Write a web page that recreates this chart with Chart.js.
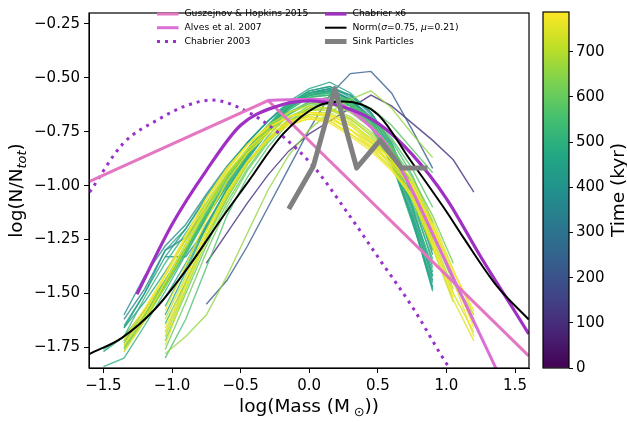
<!DOCTYPE html>
<html>
<head>
<meta charset="utf-8">
<script src="https://cdn.jsdelivr.net/npm/chart.js@4.4.0/dist/chart.umd.min.js"></script>
<style>
  html, body { margin: 0; padding: 0; background: #fff; }
  #wrap { position: relative; width: 627px; height: 423px; }
  #wrap canvas { position: absolute; left: 0; top: 0; }
</style>
</head>
<body>
<div id="wrap">
  <canvas id="mainChart" width="627" height="423"></canvas>
  <canvas id="cbarChart" width="627" height="423"></canvas>
</div>
<script>
// ticks
const xTicks = [-1.5, -1.0, -0.5, 0.0, 0.5, 1.0, 1.5];
const yTicks = [-1.75, -1.5, -1.25, -1.0, -0.75, -0.5, -0.25];
const cbarTicks = [0, 100, 200, 300, 400, 500, 600, 700];
const timeMax = 788;

// model curves (log mass, log N/Ntot)
const ghMass = [-1.6, -0.3, 1.6];
const ghLog = [-0.98, -0.605, -1.79];

const alvesMass = [-0.3, -0.1, 0.1, 0.25, 0.4, 0.55, 0.7, 1.0, 1.4];
const alvesLog = [-0.605, -0.6, -0.6, -0.63, -0.7, -0.8, -0.96, -1.36, -1.9];

const chab03Mass = [-1.6, -1.357, -1.1, -0.9, -0.71, -0.457, -0.214, 0.03, 0.273, 0.516, 0.759, 1.0, 1.05];
const chab03Log = [-1.03, -0.805, -0.693, -0.63, -0.603, -0.655, -0.76, -0.91, -1.12, -1.345, -1.57, -1.825, -1.87];

const chab6Mass = [-1.256, -1.0, -0.75, -0.5, -0.25, 0.0, 0.25, 0.5, 0.75, 1.0, 1.25, 1.5, 1.6];
const chab6Log = [-1.504, -1.18, -0.93, -0.72, -0.635, -0.607, -0.635, -0.71, -0.855, -1.06, -1.33, -1.585, -1.688];

const normMass = [-1.6, -1.365, -1.12, -0.877, -0.635, -0.464, -0.19, 0.054, 0.25, 0.5, 0.735, 1.0, 1.123, 1.367, 1.6];
const normLog = [-1.78, -1.706, -1.57, -1.374, -1.149, -0.999, -0.76, -0.633, -0.61, -0.67, -0.88, -1.12, -1.24, -1.465, -1.621];

const sinkMass = [-0.14, 0.03, 0.187, 0.346, 0.516, 0.674, 0.844];
const sinkLog = [-1.098, -0.91, -0.55, -0.918, -0.79, -0.918, -0.918];

// simulation snapshots: shared mass bins, one row of values per snapshot time (kyr)
const massBins = [-1.5, -1.35, -1.2, -1.05, -0.9, -0.75, -0.6, -0.45, -0.3, -0.15, 0, 0.15, 0.3, 0.45, 0.6, 0.75, 0.9, 1.05, 1.2];
const snapTimes = [100, 230, 350, 380, 400, 420, 430, 440, 450, 460, 470, 480, 490, 500, 510, 520, 530, 540,
                   560, 570, 580, 600, 610, 640, 660, 680, 690, 700, 710, 720, 730, 740, 750, 755, 765, 775, 780, 785];
const snapValues = [
  [null, null, null, null, null, -1.36, -1.22, -1.08, -0.95, -0.84, -0.76, -0.70, -0.64, -0.58, -0.63, -0.71, -0.79, -0.88, -1.03],
  [null, null, null, null, null, -1.55, -1.44, -1.28, -1.10, -0.92, -0.74, -0.58, -0.48, -0.47, -0.57, -0.74, -0.92, null, null],
  [null, -1.62, -1.48, -1.30, -1.24, -1.10, -0.96, -0.84, -0.73, -0.64, -0.58, -0.56, -0.60, -0.68, -0.82, -1.04, -1.32, null, null],
  [null, -1.60, -1.42, -1.28, -1.18, -1.04, -0.91, -0.80, -0.70, -0.62, -0.57, -0.55, -0.58, -0.66, -0.80, -1.02, -1.30, null, null],
  [null, null, null, -1.33, -1.33, -1.20, -1.04, -0.88, -0.75, -0.64, -0.57, -0.55, -0.60, -0.69, -0.86, -1.12, -1.44, null, null],
  [null, -1.66, -1.50, -1.33, -1.20, -1.05, -0.92, -0.80, -0.70, -0.62, -0.56, -0.54, -0.58, -0.67, -0.84, -1.10, -1.42, null, null],
  [null, null, null, -1.52, -1.36, -1.18, -1.02, -0.87, -0.74, -0.64, -0.58, -0.56, -0.60, -0.70, -0.88, -1.16, -1.48, null, null],
  [-1.77, -1.70, -1.58, -1.44, -1.29, -1.13, -0.98, -0.85, -0.73, -0.63, -0.57, -0.55, -0.61, -0.70, -0.87, -1.14, -1.47, null, null],
  [null, -1.65, -1.50, -1.30, -1.20, -1.06, -0.92, -0.80, -0.70, -0.61, -0.55, -0.52, -0.57, -0.66, -0.81, -1.05, -1.36, null, null],
  [null, -1.66, -1.54, -1.40, -1.25, -1.10, -0.96, -0.83, -0.72, -0.62, -0.56, -0.54, -0.59, -0.69, -0.85, -1.09, -1.40, null, null],
  [null, null, null, -1.60, -1.40, -1.19, -1.01, -0.86, -0.73, -0.63, -0.57, -0.56, -0.62, -0.71, -0.88, -1.15, -1.49, null, null],
  [null, -1.72, -1.60, -1.46, -1.30, -1.14, -0.99, -0.85, -0.73, -0.64, -0.58, -0.57, -0.62, -0.72, -0.89, -1.17, -1.45, null, null],
  [null, null, null, -1.56, -1.38, -1.19, -1.02, -0.87, -0.75, -0.65, -0.59, -0.58, -0.63, -0.73, -0.90, -1.14, -1.42, null, null],
  [-1.84, -1.80, -1.65, -1.49, -1.32, -1.15, -1.00, -0.86, -0.74, -0.64, -0.58, -0.58, -0.63, -0.72, -0.87, -1.10, -1.38, null, null],
  [null, -1.70, -1.52, -1.36, -1.22, -1.08, -0.95, -0.83, -0.72, -0.63, -0.58, -0.57, -0.61, -0.70, -0.85, -1.06, -1.30, null, null],
  [null, -1.75, -1.62, -1.47, -1.31, -1.14, -0.98, -0.84, -0.72, -0.62, -0.57, -0.57, -0.62, -0.70, -0.85, -1.08, -1.34, null, null],
  [null, null, null, -1.64, -1.45, -1.24, -1.06, -0.90, -0.77, -0.67, -0.61, -0.59, -0.62, -0.70, -0.83, -1.02, -1.27, null, null],
  [-1.76, -1.70, -1.60, -1.46, -1.31, -1.15, -1.00, -0.86, -0.74, -0.65, -0.59, -0.58, -0.62, -0.69, -0.81, -1.00, -1.25, null, null],
  [null, null, null, -1.80, -1.62, -1.38, -1.14, -0.96, -0.82, -0.71, -0.64, -0.61, -0.63, -0.69, -0.79, -0.95, -1.17, null, null],
  [null, -1.73, -1.60, -1.45, -1.29, -1.12, -0.97, -0.85, -0.75, -0.67, -0.62, -0.60, -0.62, -0.68, -0.78, -0.92, -1.10, null, null],
  [null, -1.76, -1.62, -1.47, -1.30, -1.13, -0.98, -0.85, -0.74, -0.66, -0.61, -0.59, -0.60, -0.64, -0.72, -0.83, -0.94, null, null],
  [null, null, null, -1.72, -1.50, -1.28, -1.08, -0.92, -0.79, -0.69, -0.63, -0.61, -0.64, -0.71, -0.83, -1.00, -1.18, null, null],
  [null, null, null, -1.76, -1.54, -1.31, -1.10, -0.93, -0.80, -0.70, -0.64, -0.62, -0.65, -0.72, -0.82, -0.96, -1.14, -1.36, null],
  [null, -1.74, -1.60, -1.44, -1.27, -1.10, -0.95, -0.83, -0.73, -0.66, -0.62, -0.62, -0.66, -0.73, -0.84, -1.00, -1.22, -1.45, -1.62],
  [null, null, null, -1.78, -1.70, -1.60, -1.42, -1.22, -1.02, -0.86, -0.74, -0.66, -0.60, -0.56, -0.64, -0.76, -0.87, null, null],
  [null, null, null, -1.70, -1.48, -1.26, -1.06, -0.90, -0.78, -0.70, -0.65, -0.64, -0.68, -0.75, -0.85, -0.98, -1.18, -1.42, -1.64],
  [null, -1.75, -1.61, -1.45, -1.27, -1.10, -0.95, -0.83, -0.74, -0.68, -0.65, -0.65, -0.69, -0.76, -0.86, -1.00, -1.20, -1.44, -1.60],
  [null, -1.77, -1.63, -1.47, -1.29, -1.11, -0.96, -0.84, -0.75, -0.68, -0.64, -0.64, -0.69, -0.77, -0.88, -1.02, -1.24, -1.48, null],
  [null, null, null, -1.68, -1.45, -1.23, -1.05, -0.90, -0.79, -0.71, -0.67, -0.67, -0.72, -0.80, -0.91, -1.06, -1.29, -1.54, null],
  [null, null, null, -1.62, -1.42, -1.21, -1.03, -0.89, -0.78, -0.70, -0.66, -0.66, -0.71, -0.78, -0.88, -1.00, -1.20, null, null],
  [null, -1.72, -1.58, -1.42, -1.25, -1.08, -0.93, -0.81, -0.72, -0.66, -0.63, -0.64, -0.70, -0.79, -0.90, -1.04, -1.26, -1.50, -1.68],
  [null, null, null, -1.74, -1.48, -1.24, -1.04, -0.89, -0.78, -0.71, -0.67, -0.68, -0.74, -0.80, -0.87, -0.97, -1.16, -1.39, -1.60],
  [null, null, null, -1.70, -1.46, -1.23, -1.04, -0.89, -0.78, -0.71, -0.68, -0.69, -0.74, -0.82, -0.92, -1.06, -1.28, -1.53, -1.72],
  [null, -1.77, -1.62, -1.45, -1.27, -1.09, -0.94, -0.83, -0.75, -0.70, -0.68, -0.70, -0.76, -0.83, -0.92, -1.04, -1.25, -1.50, null],
  [null, null, null, -1.66, -1.43, -1.21, -1.03, -0.89, -0.79, -0.72, -0.69, -0.70, -0.76, -0.82, -0.89, -0.99, -1.19, -1.44, -1.70],
  [null, null, null, -1.58, -1.37, -1.16, -0.98, -0.85, -0.76, -0.71, -0.69, -0.71, -0.77, -0.84, -0.93, -1.05, -1.27, -1.52, null],
  [null, -1.71, -1.57, -1.41, -1.23, -1.06, -0.92, -0.81, -0.73, -0.68, -0.66, -0.67, -0.72, -0.79, -0.88, -1.00, -1.18, -1.40, -1.58],
  [null, -1.74, -1.59, -1.42, -1.24, -1.06, -0.92, -0.81, -0.73, -0.68, -0.66, -0.68, -0.74, -0.81, -0.90, -1.01, -1.20, -1.42, -1.66]
];

const FONT = "'DejaVu Sans', sans-serif";
Chart.defaults.font.family = FONT;
Chart.defaults.color = '#000';

// viridis colour map
const viridisStops = ['#440154', '#482475', '#414487', '#355f8d', '#2a788e', '#21918c',
                      '#22a884', '#44bf70', '#7ad151', '#bddf26', '#fde725'];
function hexRgb(h) {
  return [1, 3, 5].map(i => parseInt(h.substr(i, 2), 16));
}
function viridis(f, alpha) {
  f = Math.min(1, Math.max(0, f));
  const p = f * (viridisStops.length - 1);
  const i = Math.min(Math.floor(p), viridisStops.length - 2);
  const t = p - i;
  const a = hexRgb(viridisStops[i]), b = hexRgb(viridisStops[i + 1]);
  const c = a.map((v, k) => Math.round(v + (b[k] - v) * t));
  return 'rgba(' + c[0] + ',' + c[1] + ',' + c[2] + ',' + alpha + ')';
}

function fmtTick(v, d) {
  return Number(v).toFixed(d).replace('-', '\u2212');
}
const toPoints = (xs, ys) => xs.map((x, i) => ({ x: x, y: ys[i] }));

// text with italic / subscript pieces
function measureRich(ctx, parts, size) {
  let w = 0;
  for (const [txt, st] of parts) {
    const fs = st.includes('sub') ? size * 0.7 : size;
    ctx.font = (st.includes('talic') ? 'italic ' : '') + fs + 'px ' + FONT;
    w += ctx.measureText(txt).width;
  }
  return w;
}
function drawRich(ctx, parts, x, y, size) {
  let cx = x;
  for (const [txt, st] of parts) {
    const sub = st.includes('sub');
    const fs = sub ? size * 0.7 : size;
    ctx.font = (st.includes('talic') ? 'italic ' : '') + fs + 'px ' + FONT;
    ctx.fillText(txt, cx, y + (sub ? size * 0.22 : 0));
    cx += ctx.measureText(txt).width;
  }
}

// datasets
const modelDatasets = [
  { label: 'Sink Particles', data: toPoints(sinkMass, sinkLog), borderColor: '#808080',
    borderWidth: 5, borderJoinStyle: 'round', borderCapStyle: 'square', order: 0 },
  { label: 'Norm', data: toPoints(normMass, normLog), borderColor: '#000000',
    borderWidth: 2, cubicInterpolationMode: 'monotone', order: 1 },
  { label: 'Chabrier x6', data: toPoints(chab6Mass, chab6Log), borderColor: '#a030c4',
    borderWidth: 3.2, cubicInterpolationMode: 'monotone', order: 2 },
  { label: 'Alves et al. 2007', data: toPoints(alvesMass, alvesLog), borderColor: '#da70d6',
    borderWidth: 3, cubicInterpolationMode: 'monotone', order: 3 },
  { label: 'Guszejnov & Hopkins 2015', data: toPoints(ghMass, ghLog), borderColor: '#e377c2',
    borderWidth: 3, order: 4 },
  { label: 'Chabrier 2003', data: toPoints(chab03Mass, chab03Log), borderColor: '#9932cc',
    borderWidth: 3, borderDash: [3, 5], cubicInterpolationMode: 'monotone', order: 5 }
];

const snapDatasets = snapTimes.map((t, i) => ({
  label: 'snap ' + t,
  data: massBins.map((m, j) => ({ x: m, y: snapValues[i][j] })).filter(p => p.y !== null),
  borderColor: viridis(t / timeMax, 0.8),
  borderWidth: 1.4,
  order: 100 - i
}));

// legend layout (two columns, three rows, no frame)
const legendCols = [157, 325];
const legendRows = [14, 27.7, 41.5];
const legendLayout = [
  { label: 'Guszejnov & Hopkins 2015', col: 0, row: 0, text: [['Guszejnov & Hopkins 2015', '']] },
  { label: 'Alves et al. 2007', col: 0, row: 1, text: [['Alves et al. 2007', '']] },
  { label: 'Chabrier 2003', col: 0, row: 2, text: [['Chabrier 2003', '']] },
  { label: 'Chabrier x6', col: 1, row: 0, text: [['Chabrier x6', '']] },
  { label: 'Norm', col: 1, row: 1,
    text: [['Norm(', ''], ['\u03c3', 'italic'], ['=0.75, ', ''], ['\u03bc', 'italic'], ['=0.21)', '']] },
  { label: 'Sink Particles', col: 1, row: 2, text: [['Sink Particles', '']] }
];

const legendPlugin = {
  id: 'modelLegend',
  afterDraw(chart) {
    const ctx = chart.ctx;
    ctx.save();
    legendLayout.forEach(item => {
      const ds = chart.data.datasets.find(d => d.label === item.label);
      const x0 = legendCols[item.col], y = legendRows[item.row];
      ctx.beginPath();
      ctx.strokeStyle = ds.borderColor;
      ctx.lineWidth = ds.borderWidth;
      ctx.lineCap = 'butt';
      ctx.setLineDash(ds.borderDash || []);
      ctx.moveTo(x0, y);
      ctx.lineTo(x0 + 21.5, y);
      ctx.stroke();
      ctx.setLineDash([]);
      ctx.fillStyle = '#000';
      ctx.textBaseline = 'middle';
      drawRich(ctx, item.text, x0 + 27.5, y, 9.2);
    });
    ctx.restore();
  }
};

const framePlugin = {
  id: 'frame',
  afterDraw(chart) {
    const a = chart.chartArea, ctx = chart.ctx;
    ctx.save();
    ctx.strokeStyle = '#000';
    ctx.lineWidth = 1.2;
    ctx.strokeRect(a.left, a.top, a.right - a.left, a.bottom - a.top);
    ctx.restore();
  }
};

const axisTitlePlugin = {
  id: 'axisTitles',
  afterDraw(chart) {
    const ctx = chart.ctx, a = chart.chartArea;
    const size = 18.5;
    ctx.save();
    ctx.fillStyle = '#000';
    ctx.textBaseline = 'alphabetic';
    const xParts = [['log(Mass (M', ''], ['\u2009', ''], ['\u2299', 'sub'], ['))', '']];
    const wx = measureRich(ctx, xParts, size);
    drawRich(ctx, xParts, (a.left + a.right) / 2 - wx / 2, 411.5, size);
    const yParts = [['log(N/N', ''], ['tot', 'subItalic'], [')', '']];
    ctx.translate(21.5, (a.top + a.bottom) / 2);
    ctx.rotate(-Math.PI / 2);
    const wy = measureRich(ctx, yParts, size);
    drawRich(ctx, yParts, -wy / 2, 0, size);
    ctx.restore();
  }
};

new Chart(document.getElementById('mainChart'), {
  type: 'line',
  data: { datasets: modelDatasets.concat(snapDatasets) },
  options: {
    responsive: false,
    animation: false,
    events: [],
    layout: { padding: { left: 0, right: 98, top: 2, bottom: 0 } },
    plugins: { legend: { display: false }, tooltip: { enabled: false } },
    elements: { point: { radius: 0 }, line: { tension: 0, fill: false } },
    datasets: { line: { clip: 0 } },
    scales: {
      x: {
        type: 'linear', min: -1.605, max: 1.602,
        afterBuildTicks: s => { s.ticks = xTicks.map(v => ({ value: v })); },
        afterFit: s => { s.height = 55; },
        ticks: { callback: v => fmtTick(v, 1), font: { size: 15 }, color: '#000',
                 padding: 4, maxRotation: 0, autoSkip: false },
        grid: { drawOnChartArea: false, tickLength: 5, color: '#000', lineWidth: 1 },
        border: { color: '#000', width: 1 }
      },
      y: {
        type: 'linear', min: -1.846, max: -0.199,
        afterBuildTicks: s => { s.ticks = yTicks.map(v => ({ value: v })); },
        afterFit: s => { s.width = 89; },
        ticks: { callback: v => fmtTick(v, 2), font: { size: 15 }, color: '#000',
                 padding: 4, autoSkip: false },
        grid: { drawOnChartArea: false, tickLength: 5, color: '#000', lineWidth: 1 },
        border: { color: '#000', width: 1 }
      }
    }
  },
  plugins: [framePlugin, legendPlugin, axisTitlePlugin]
});

// colour bar
const cbarPlugin = {
  id: 'cbarDecor',
  afterDraw(chart) {
    const a = chart.chartArea, ctx = chart.ctx;
    ctx.save();
    ctx.strokeStyle = '#000';
    ctx.lineWidth = 1.2;
    ctx.strokeRect(a.left, a.top, a.right - a.left, a.bottom - a.top);
    ctx.fillStyle = '#000';
    ctx.font = '18.5px ' + FONT;
    ctx.textAlign = 'center';
    ctx.textBaseline = 'alphabetic';
    ctx.translate(623.5, (a.top + a.bottom) / 2);
    ctx.rotate(-Math.PI / 2);
    ctx.fillText('Time (kyr)', 0, 0);
    ctx.restore();
  }
};

new Chart(document.getElementById('cbarChart'), {
  type: 'bar',
  data: {
    labels: [''],
    datasets: [{
      data: [timeMax],
      borderWidth: 0,
      barPercentage: 1,
      categoryPercentage: 1,
      backgroundColor: c => {
        const a = c.chart.chartArea;
        if (!a) return 'transparent';
        const g = c.chart.ctx.createLinearGradient(0, a.bottom, 0, a.top);
        viridisStops.forEach((col, k) => g.addColorStop(k / (viridisStops.length - 1), col));
        return g;
      }
    }]
  },
  options: {
    responsive: false,
    animation: false,
    events: [],
    layout: { padding: { left: 543, right: 0, top: 2, bottom: 55 } },
    plugins: { legend: { display: false }, tooltip: { enabled: false } },
    scales: {
      x: { display: false },
      y: {
        position: 'right', min: 0, max: timeMax,
        afterBuildTicks: s => { s.ticks = cbarTicks.map(v => ({ value: v })); },
        afterFit: s => { s.width = 58; },
        ticks: { font: { size: 15 }, color: '#000', padding: 3, autoSkip: false },
        grid: { drawOnChartArea: false, tickLength: 4, color: '#000', lineWidth: 1 },
        border: { display: false }
      }
    }
  },
  plugins: [cbarPlugin]
});
</script>
</body>
</html>
